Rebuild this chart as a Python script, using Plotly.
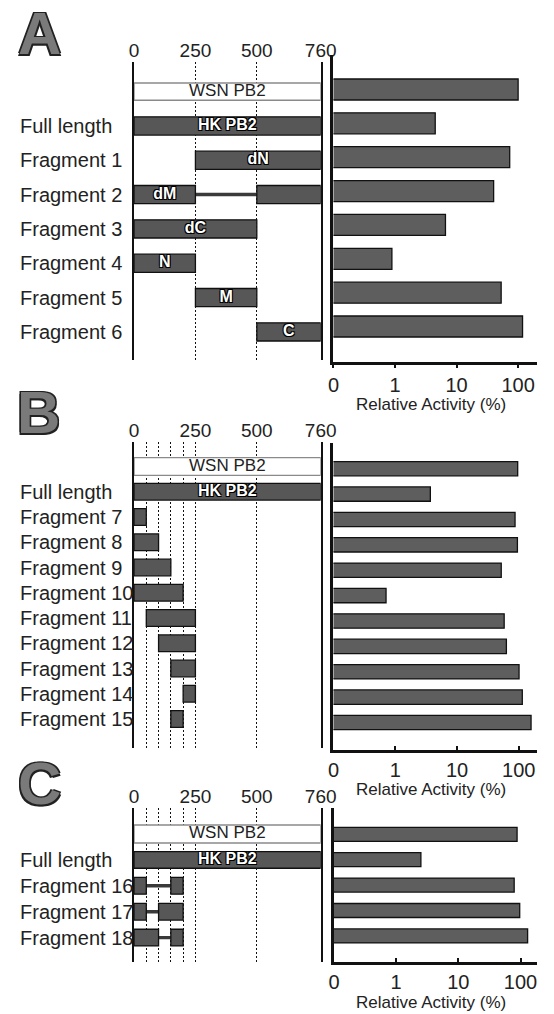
import plotly.graph_objects as go

W, H = 554, 1014
FONT = "Liberation Sans, Arial, sans-serif"

# ---------------- data ----------------
REF_NAME = "WSN PB2"
X_TICKS = [0, 250, 500, 760]
ACT_TICKVALS = [0.1, 1, 10, 100]
ACT_TICKTEXT = ["0", "1", "10", "100"]
ACT_TITLE = "Relative Activity (%)"

A_rows = ["Full length", "Fragment 1", "Fragment 2", "Fragment 3",
          "Fragment 4", "Fragment 5", "Fragment 6"]
A_starts = [[0], [250], [0, 500], [0], [0], [250], [500]]
A_ends = [[760], [760], [250, 760], [500], [250], [500], [760]]
A_tags = ["HK PB2", "dN", "dM", "dC", "N", "M", "C"]
A_activity = [100, 4.5, 73, 40, 6.6, 0.89, 53, 118]   # first value = WSN PB2
A_minor = []

B_rows = ["Full length", "Fragment 7", "Fragment 8", "Fragment 9", "Fragment 10",
          "Fragment 11", "Fragment 12", "Fragment 13", "Fragment 14", "Fragment 15"]
B_starts = [[0], [0], [0], [0], [0], [50], [100], [150], [200], [150]]
B_ends = [[760], [50], [100], [150], [200], [250], [250], [250], [250], [200]]
B_tags = ["HK PB2", "", "", "", "", "", "", "", "", ""]
B_activity = [96, 3.7, 87, 95, 52, 0.71, 58, 63, 101, 114, 158]
B_minor = [50, 100, 150, 200]

C_rows = ["Full length", "Fragment 16", "Fragment 17", "Fragment 18"]
C_starts = [[0], [0, 150], [0, 100], [0, 150]]
C_ends = [[760], [50, 200], [50, 200], [100, 200]]
C_tags = ["HK PB2", "", "", ""]
C_activity = [88, 2.5, 79, 97, 130]
C_minor = [50, 100, 150, 200]

# ---------------- layout geometry (pixels) ----------------
PANELS = [
    dict(letter="A", letter_xy=(35, 34), rows=A_rows, starts=A_starts, ends=A_ends,
         tags=A_tags, act=A_activity, minor=A_minor,
         l_dom=(62, 360), l_row0=91.6, l_step=34.33, l_barw=0.53, wsn_w=0.5, conn_w=0.1,
         r_dom=(55, 361.7), r_row0=89.5, r_step=33.86, r_barw=0.62,
         r_x0=341, r_dec=64.1, title_y=405, tick_mode="outside"),
    dict(letter="B", letter_xy=(34, 413), rows=B_rows, starts=B_starts, ends=B_ends,
         tags=B_tags, act=B_activity, minor=B_minor,
         l_dom=(441.7, 748), l_row0=466.5, l_step=25.25, l_barw=0.66, wsn_w=0.7, conn_w=0.13,
         r_dom=(443, 750), r_row0=468.7, r_step=25.38, r_barw=0.565,
         r_x0=341, r_dec=64.33, title_y=789, tick_mode="inside"),
    dict(letter="C", letter_xy=(35, 783), rows=C_rows, starts=C_starts, ends=C_ends,
         tags=C_tags, act=C_activity, minor=C_minor,
         l_dom=(808, 962), l_row0=834, l_step=25.9, l_barw=0.645, wsn_w=0.69, conn_w=0.13,
         r_dom=(808, 962), r_row0=834.3, r_step=25.4, r_barw=0.55,
         r_x0=341.5, r_dec=64.77, title_y=1002, tick_mode="inside"),
]

LEFT_X = (133.3, 327.7)
RIGHT_END = 553

BAR_FILL = "#575757"
BAR_LINE = "#111111"
OUTLINE = "-1px -1px 0 #000, 1px -1px 0 #000, -1px 1px 0 #000, 1px 1px 0 #000"


def py(p):
    return 1 - p / H


fig = go.Figure()
annotations = []
layout = {}

for k, P in enumerate(PANELS):
    li, ri = 2 * k + 1, 2 * k + 2
    lx = "x" if li == 1 else f"x{li}"
    ly = "y" if li == 1 else f"y{li}"
    rx, ry = f"x{ri}", f"y{ri}"
    lxa = "xaxis" if li == 1 else f"xaxis{li}"
    lya = "yaxis" if li == 1 else f"yaxis{li}"
    rxa, rya = f"xaxis{ri}", f"yaxis{ri}"

    n = len(P["rows"])
    row_idx = list(range(1, n + 1))

    # --- reference (WSN) box ---
    fig.add_trace(go.Bar(
        x=[X_TICKS[-1]], base=[0], y=[0], orientation="h", width=P["wsn_w"],
        marker=dict(color="white", line=dict(color="#8a8a8a", width=1.4)),
        xaxis=lx, yaxis=ly, showlegend=False, hoverinfo="skip"))

    # --- connectors between split segments ---
    cy, cb, cx = [], [], []
    for r, (s, e) in enumerate(zip(P["starts"], P["ends"]), start=1):
        for j in range(len(s) - 1):
            cy.append(r)
            cb.append(e[j])
            cx.append(s[j + 1] - e[j])
    if cy:
        fig.add_trace(go.Bar(
            x=cx, base=cb, y=cy, orientation="h", width=P["conn_w"],
            marker=dict(color="#3a3a3a", line=dict(width=0)),
            xaxis=lx, yaxis=ly, showlegend=False, hoverinfo="skip"))

    # --- segment bars ---
    sy, sb, sx = [], [], []
    for r, (s, e) in enumerate(zip(P["starts"], P["ends"]), start=1):
        for a, b in zip(s, e):
            sy.append(r)
            sb.append(a)
            sx.append(b - a)
    fig.add_trace(go.Bar(
        x=sx, base=sb, y=sy, orientation="h", width=P["l_barw"],
        marker=dict(color=BAR_FILL, line=dict(color=BAR_LINE, width=1.3)),
        xaxis=lx, yaxis=ly, showlegend=False, hoverinfo="skip"))

    # --- tags inside bars (centre of first segment) ---
    tx, ty, tt = [], [], []
    for r, (s, e, t) in enumerate(zip(P["starts"], P["ends"], P["tags"]), start=1):
        if t:
            tx.append((s[0] + e[0]) / 2)
            ty.append(r)
            tt.append(t)
    fig.add_trace(go.Scatter(
        x=tx, y=ty, text=tt, mode="text",
        textfont=dict(family=FONT, size=16, color="white", weight="bold", shadow=OUTLINE),
        xaxis=lx, yaxis=ly, showlegend=False, hoverinfo="skip"))
    fig.add_trace(go.Scatter(
        x=[X_TICKS[-1] / 2], y=[0], text=[REF_NAME], mode="text",
        textfont=dict(family=FONT, size=17, color="#222"),
        xaxis=lx, yaxis=ly, showlegend=False, hoverinfo="skip"))

    # --- activity bars ---
    fig.add_trace(go.Bar(
        x=P["act"], y=[0] + row_idx, orientation="h", width=P["r_barw"],
        marker=dict(color="#5e5e5e", line=dict(color=BAR_LINE, width=1.3)),
        xaxis=rx, yaxis=ry, showlegend=False, hoverinfo="skip"))

    # --- axes ---
    lt, lb = P["l_dom"]
    rt, rb = P["r_dom"]
    layout[lxa] = dict(
        domain=[LEFT_X[0] / W, LEFT_X[1] / W], range=[0, 760], anchor=ly, side="top",
        tickmode="array", tickvals=X_TICKS, ticktext=[str(v) for v in X_TICKS],
        ticks="", showline=False, zeroline=False,
        showgrid=True, gridcolor="#111", gridwidth=1.3, griddash="2px,2px",
        tickfont=dict(family=FONT, size=19, color="#222"),
        minor=dict(tickvals=P["minor"], showgrid=bool(P["minor"]), gridcolor="#111",
                   gridwidth=1.3, griddash="2px,2px", ticks=""),
        fixedrange=True)
    layout[lya] = dict(
        domain=[py(lb), py(lt)], anchor=lx,
        range=[(lb - P["l_row0"]) / P["l_step"], (lt - P["l_row0"]) / P["l_step"]],
        showticklabels=False, ticks="", showgrid=False, zeroline=False,
        showline=True, mirror=True, linecolor="#111", linewidth=2, fixedrange=True)
    layout[rxa] = dict(
        domain=[P["r_x0"] / W, RIGHT_END / W], anchor=ry, type="log",
        range=[-1, -1 + (RIGHT_END - P["r_x0"]) / P["r_dec"]],
        tickmode="array", tickvals=ACT_TICKVALS, ticktext=ACT_TICKTEXT,
        ticks=P["tick_mode"], ticklen=4, tickwidth=1.5, tickcolor="#111",
        showline=True, linecolor="#111", linewidth=2.5, showgrid=False, zeroline=False,
        tickfont=dict(family=FONT, size=20, color="#222"), fixedrange=True)
    layout[rya] = dict(
        domain=[py(rb), py(rt)], anchor=rx,
        range=[(rb - P["r_row0"]) / P["r_step"], (rt - P["r_row0"]) / P["r_step"]],
        showticklabels=False, ticks="", showgrid=False, zeroline=False,
        showline=True, linecolor="#111", linewidth=2.5, fixedrange=True)

    # --- row labels ---
    for r, name in zip(row_idx, P["rows"]):
        annotations.append(dict(
            x=13 / W, xref="paper", y=r, yref=ly, text=name, showarrow=False,
            xanchor="left", yanchor="middle",
            font=dict(family=FONT, size=20, color="#222")))

    # --- axis title ---
    annotations.append(dict(
        x=443 / W, xref="paper", y=py(P["title_y"]), yref="paper", text=ACT_TITLE,
        showarrow=False, xanchor="center", yanchor="middle",
        font=dict(family=FONT, size=17, color="#222")))

    # --- panel letter ---
    annotations.append(dict(
        x=P["letter_xy"][0] / W, xref="paper", y=py(P["letter_xy"][1]), yref="paper",
        text=P["letter"], showarrow=False, xanchor="center", yanchor="middle",
        font=dict(family=FONT, size=60, color="#7a7a7a", weight="bold",
                  shadow="-1.5px -1.5px 0 #222, 1.5px -1.5px 0 #222, -1.5px 1.5px 0 #222, 1.5px 1.5px 0 #222")))

fig.update_layout(
    width=W, height=H, margin=dict(l=0, r=0, t=0, b=0),
    paper_bgcolor="white", plot_bgcolor="white",
    barmode="overlay", showlegend=False, annotations=annotations,
    font=dict(family=FONT), **layout)

# remove the default 8px page margin so the figure sits at the window's corner
fig.write_html("out.html", config={"displayModeBar": False},
               post_script="document.body.style.margin='0px';")
